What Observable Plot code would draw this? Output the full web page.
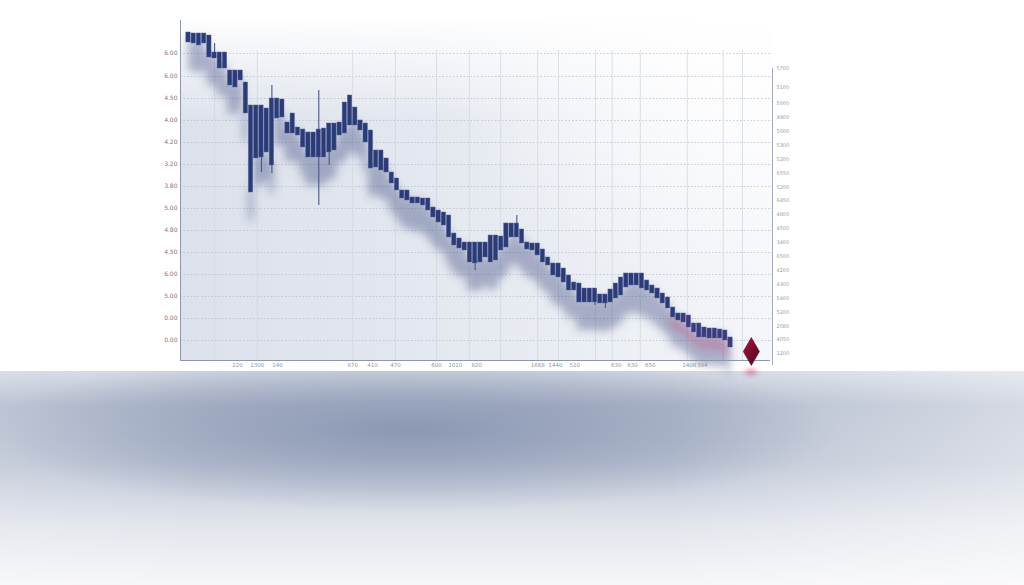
<!DOCTYPE html>
<html><head><meta charset="utf-8">
<script src="https://cdn.jsdelivr.net/npm/d3@7"></script>
<script src="https://cdn.jsdelivr.net/npm/@observablehq/plot@0.6"></script>
<style>
html,body{margin:0;padding:0;background:#fff;width:1024px;height:585px;overflow:hidden;position:relative;font-family:"DejaVu Sans",sans-serif}
#bg{position:absolute;left:180px;top:20px;width:592px;height:340px;
 background:
  linear-gradient(to bottom, rgba(255,255,255,0.95) 0%, rgba(255,255,255,0) 30%),
  radial-gradient(ellipse 50% 60% at 95% 20%, rgba(255,255,255,0.9), rgba(255,255,255,0) 100%),
  linear-gradient(to right, #dce1eb 0%, #e3e7ef 40%, #ecEff4 75%, #f5f6f9 100%);}
#refl{position:absolute;left:0;top:371px;width:1024px;height:214px;
 background:
  radial-gradient(ellipse 42% 38% at 40% 28%, rgba(125,138,170,0.75), rgba(125,138,170,0) 100%),
  linear-gradient(to right, rgba(255,255,255,0.15) 0%, rgba(255,255,255,0) 20%, rgba(255,255,255,0) 65%, rgba(255,255,255,0.45) 100%),
  linear-gradient(to bottom, #d3d8e3 0%, #b2bbcd 16%, #bcc4d4 42%, #e2e5ec 72%, #f6f7f9 100%);}
#refl2{position:absolute;left:742px;top:367px;width:18px;height:10px;border-radius:50%;
 background:radial-gradient(ellipse at center, rgba(220,60,110,0.7), rgba(220,60,110,0) 70%);filter:blur(2px)}
#chart{position:absolute;left:0;top:0}
</style></head><body>
<div id="bg"></div><div id="refl"></div><div id="refl2"></div><div id="chart"></div>
<script>
// Candle values (price units)
const open = [16.4,16.35,16.35,16.35,16.25,15.4,15.4,15.4,14.5,14.5,14.5,13.9,12.75,12.75,12.75,12.6,13.1,13.1,13.05,11.9,
 12.35,11.65,11.55,11.4,11.4,11.55,11.6,11.85,11.85,11.9,12.9,13.25,12.65,12.0,11.85,11.5,10.5,10.5,10.1,9.4,
 9.1,8.5,8.5,8.15,8.15,8.1,8.1,7.65,7.5,7.4,7.25,6.35,6.1,5.9,5.9,5.9,5.9,5.9,6.25,6.25,
 6.2,6.85,6.85,6.85,6.55,5.9,5.85,5.85,5.55,5.15,4.85,4.85,4.6,4.25,3.9,3.85,3.6,3.6,3.6,3.3,
 3.3,3.55,3.85,4.15,4.35,4.35,4.35,4.35,4.0,3.75,3.6,3.35,3.15,2.65,2.35,2.35,2.25,1.85,1.85,1.65,
 1.6,1.6,1.55,1.5,1.15];
const close = [15.9,15.85,15.75,15.85,15.15,15.1,14.6,14.6,13.75,13.65,14.0,12.35,8.4,10.1,10.15,10.4,9.75,12.1,12.15,11.35,
 11.35,11.25,10.65,10.15,10.15,10.15,10.15,10.4,10.5,11.25,11.35,11.75,11.75,11.5,10.9,9.6,9.65,9.5,9.4,8.85,
 8.5,8.1,8.0,7.85,7.85,7.75,7.5,7.15,6.9,6.75,6.15,5.75,5.6,5.5,4.9,4.85,4.9,5.15,4.9,5.0,
 5.5,5.65,6.15,6.15,5.85,5.55,5.5,5.25,4.9,4.75,4.25,4.15,3.9,3.5,3.5,2.9,2.9,2.9,2.9,2.85,
 2.85,2.9,3.1,3.25,3.65,3.75,3.75,3.6,3.5,3.35,3.1,2.85,2.6,2.15,2.0,1.9,1.65,1.4,1.15,1.15,
 1.1,1.1,1.1,1.0,0.65];
const wickAt   = [6, 15, 17, 26, 28, 56, 64, 79, 81];
const wickHigh = [15.85, 12.75, 13.75, 13.5, 11.85, 5.9, 7.25, 3.6, 3.3];
const wickLow  = [15.1, 9.4, 9.35, 7.75, 9.75, 4.5, 6.15, 2.75, 2.6];

const leftTickValues = [1.0, 2.1, 3.2, 4.3, 5.4, 6.5, 7.6, 8.7, 9.8, 10.9, 12.0, 13.1, 14.2, 15.35];
const leftTickLabels = ["0.00","0.00","5.00","6.00","4.50","4.80","5.00","3.80","3.20","4.20","4.00","4.50","6.00","6.00"];
const rightTickValues = [14.6,13.65,12.85,12.16,11.46,10.77,10.07,9.38,8.68,7.99,7.29,6.6,5.9,5.21,4.51,3.82,3.12,2.43,1.73,1.04,0.34];
const rightTickLabels = ["5700","5100","5000","4900","5000","5300","5200","6550","5200","6450","4800","4500","3400","6500","4200","4300","5400","5200","2080","4050","1200"];
const bottomTickValues = [10.4,14.2,18.1,32.5,36.3,40.7,48.6,52.2,56.3,68.0,71.4,75.1,83.1,86.2,89.6,97.1,99.6];
const bottomTickLabels = ["220","1300","140","870","410","470","600","1010","820","1668","1440","510","630","630","650","1408","394"];
const gridXValues = [6.0,14.2,32.5,40.7,48.6,54.9,60.9,68.0,72.0,79.1,82.3,87.7,96.7,103.6,107.3];
const markerX = [109.0];
const markerY = [0.45];

const candles = open.map((o, i) => ({i: i + 1, o, c: close[i]}));
const wicks = wickAt.map((i, k) => ({i, hi: wickHigh[k], lo: wickLow[k]}));
const markers = markerX.map((x, k) => ({x, y: markerY[k]}));
const xDomain = [-0.535, 113.06];

const plot = Plot.plot({
  width: 1024, height: 390,
  marginLeft: 180, marginRight: 252, marginTop: 20, marginBottom: 30,
  x: {domain: xDomain, axis: null},
  y: {domain: [0, 17], axis: null},
  style: {background: "transparent", fontFamily: "DejaVu Sans, sans-serif", overflow: "visible"},
  marks: [
    Plot.ruleY(leftTickValues, {stroke: "#b9bfcb", strokeDasharray: "1.5,2", strokeWidth: 0.8}),
    Plot.ruleX(gridXValues, {y1: 0, y2: 15.5, stroke: "#d3d8e1", strokeWidth: 0.8}),
    Plot.areaY(candles, {x: "i", y1: d => d.c - 1.4, y2: d => d.c + 0.2, fill: "#3d4c80", fillOpacity: 0.4, curve: "step", ariaDescription: "shadow"}),
    Plot.areaY(candles.filter(d => d.i >= 93), {x: "i", y1: d => d.c - 0.6, y2: d => d.c, fill: "#d0427a", fillOpacity: 0.28, curve: "step", ariaDescription: "pinkglow"}),
    Plot.ruleX(wicks, {x: "i", y1: "lo", y2: "hi", stroke: "#4a5688", strokeWidth: 1.1}),
    Plot.rect(candles, {x1: d => d.i - 0.42, x2: d => d.i + 0.42, y1: "c", y2: "o",
      fill: d => d.i >= 96 ? "#3d3a7e" : "#2c3a76", stroke: "#5a68a0", strokeWidth: 0.5, ariaDescription: "candles"}),
    Plot.ruleX([xDomain[0]], {y1: 0, y2: 17, stroke: "#8e96a8", strokeWidth: 1}),
    Plot.ruleY([0], {x1: xDomain[0], x2: 112.7, stroke: "#8e96a8", strokeWidth: 1}),
    Plot.ruleX([xDomain[1]], {y1: -0.25, y2: 14.6, stroke: "#a3aabb", strokeWidth: 1}),
    Plot.dot(markers, {x: "x", y: "y", symbol: "diamond", r: 8.5, fill: "url(#dia)", stroke: "#4d0719", strokeWidth: 0.5}),
    Plot.text(leftTickValues, {y: d => d, text: (d, i) => leftTickLabels[i], frameAnchor: "left", textAnchor: "end", dx: -3, fontSize: 6, fill: "#757a86"}),
    Plot.text(rightTickValues, {y: d => d, text: (d, i) => rightTickLabels[i], frameAnchor: "right", textAnchor: "start", dx: 4, fontSize: 5, fill: "#979cab"}),
    Plot.text(bottomTickValues, {x: d => d, text: (d, i) => bottomTickLabels[i], frameAnchor: "bottom", dy: 6, fontSize: 5.5, fill: "#8e939f"})
  ]
});

const svg = d3.select(plot);
const defs = svg.insert("defs", ":first-child");
const g = defs.append("linearGradient").attr("id", "dia").attr("x1", 0).attr("y1", 0).attr("x2", 1).attr("y2", 1);
g.append("stop").attr("offset", "0%").attr("stop-color", "#a8173f");
g.append("stop").attr("offset", "50%").attr("stop-color", "#7b0d2c");
g.append("stop").attr("offset", "100%").attr("stop-color", "#4f0519");
defs.append("filter").attr("id", "blurS").attr("x", "-20%").attr("y", "-50%").attr("width", "140%").attr("height", "200%")
  .append("feGaussianBlur").attr("stdDeviation", 4);
defs.append("filter").attr("id", "blurP").attr("x", "-20%").attr("y", "-50%").attr("width", "140%").attr("height", "200%")
  .append("feGaussianBlur").attr("stdDeviation", 3);
defs.append("filter").attr("id", "blurC").attr("x", "-5%").attr("y", "-5%").attr("width", "110%").attr("height", "110%")
  .append("feGaussianBlur").attr("stdDeviation", 0.35);
svg.select('g[aria-description="shadow"]').attr("filter", "url(#blurS)");
svg.select('g[aria-description="pinkglow"]').attr("filter", "url(#blurP)");
svg.select('g[aria-description="candles"]').attr("filter", "url(#blurC)");
document.getElementById("chart").appendChild(plot);
</script>
</body></html>
